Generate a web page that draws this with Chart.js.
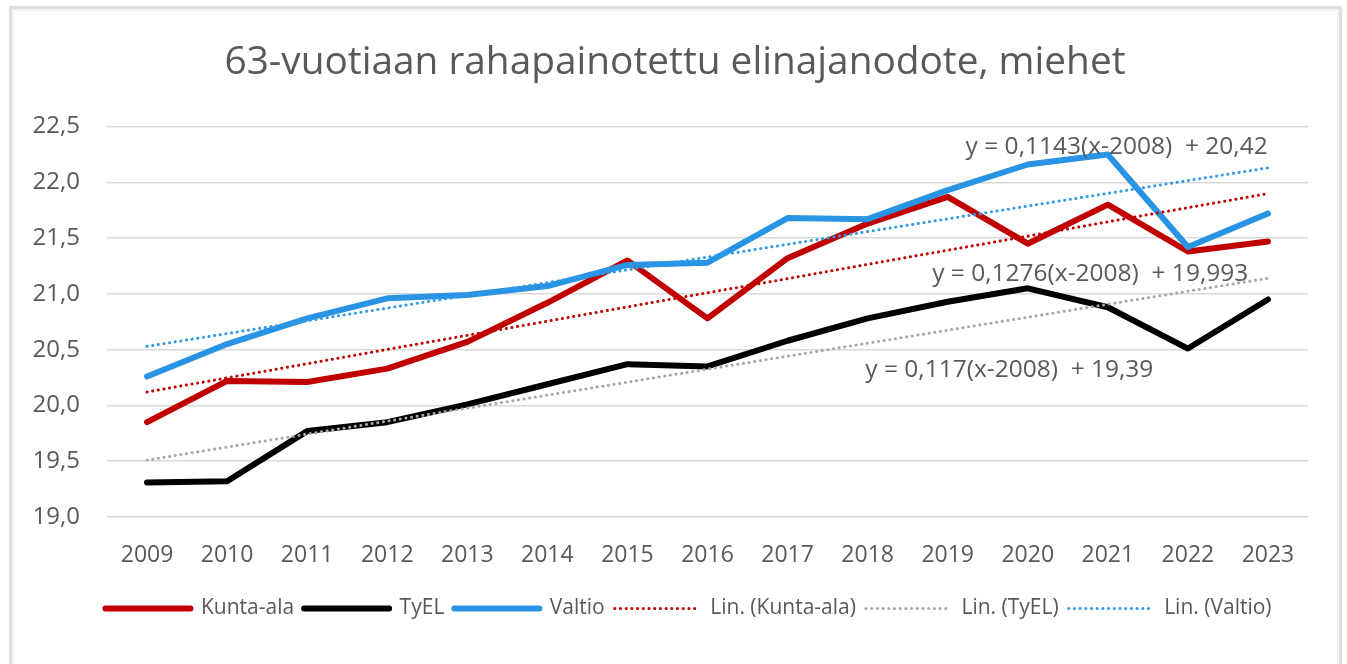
<!DOCTYPE html>
<html>
<head>
<meta charset="utf-8">
<script src="https://cdn.jsdelivr.net/npm/chart.js@4.4.1/dist/chart.umd.min.js"></script>
<style>
  html, body { margin: 0; padding: 0; background: #fff; width: 1347px; height: 664px; overflow: hidden; }
  #frame { position: absolute; left: 9px; top: 6px; width: 1327px; height: 720px; border: 3px solid #dedede; box-shadow: inset 0 0 0 2px #f3f3f3; background: #fff; }
  #c { position: absolute; left: 0; top: 0; }
</style>
</head>
<body>
<div id="frame"></div>
<canvas id="c" width="1347" height="664"></canvas>
<script>
// ---- data ----
const years = ['2009','2010','2011','2012','2013','2014','2015','2016','2017','2018','2019','2020','2021','2022','2023'];
const kuntaAla = [19.85, 20.22, 20.21, 20.33, 20.57, 20.92, 21.30, 20.78, 21.32, 21.63, 21.87, 21.45, 21.80, 21.38, 21.47];
const tyel     = [19.31, 19.32, 19.77, 19.85, 20.01, 20.19, 20.37, 20.35, 20.58, 20.78, 20.93, 21.05, 20.88, 20.51, 20.95];
const valtio   = [20.26, 20.55, 20.78, 20.96, 20.99, 21.07, 21.26, 21.28, 21.68, 21.67, 21.93, 22.16, 22.25, 21.42, 21.72];
// trend lines: values read at the first and last year only
const kuntaTrend  = [20.12, null, null, null, null, null, null, null, null, null, null, null, null, null, 21.90];
const tyelTrend   = [19.51, null, null, null, null, null, null, null, null, null, null, null, null, null, 21.14];
const valtioTrend = [20.53, null, null, null, null, null, null, null, null, null, null, null, null, null, 22.13];
const seriesNames = ['Kunta-ala', 'TyEL', 'Valtio', 'Lin. (Kunta-ala)', 'Lin. (TyEL)', 'Lin. (Valtio)'];
const yTicks = [19.0, 19.5, 20.0, 20.5, 21.0, 21.5, 22.0, 22.5];
const equationTexts = ['y = 0,1143(x-2008)  + 20,42', 'y = 0,1276(x-2008)  + 19,993', 'y = 0,117(x-2008)  + 19,39'];
const titleText = '63-vuotiaan rahapainotettu elinajanodote, miehet';

const TXT = '#595959';
const FONT = '"Open Sans", "DejaVu Sans", sans-serif';

// anchors for equation labels in data units (category index, value)
const eqAnchors = [
  { text: equationTexts[0], xi: 12.11, yv: 22.32 },
  { text: equationTexts[1], xi: 11.78, yv: 21.18 },
  { text: equationTexts[2], xi: 10.77, yv: 20.32 }
];

const eqPlugin = {
  id: 'eqLabels',
  afterDatasetsDraw(chart) {
    const { ctx, scales: { x, y } } = chart;
    ctx.save();
    ctx.font = '24.5px ' + FONT;
    ctx.fillStyle = TXT;
    ctx.textAlign = 'center';
    ctx.textBaseline = 'middle';
    eqAnchors.forEach(a => ctx.fillText(a.text, x.getPixelForValue(a.xi), y.getPixelForValue(a.yv)));
    ctx.restore();
  }
};

// nudge title and legend horizontally to match the reference's centring
const shiftPlugin = {
  id: 'shiftBoxes',
  afterLayout(chart) {
    const l = chart.legend; if (l) { l.left += 19.5; l.right += 19.5; }
    const t = chart.titleBlock; if (t) { t.left += 6; t.right += 6; }
  }
};

function solid(label, data, color, order) {
  return { label, data, borderColor: color, backgroundColor: color, borderWidth: 6,
    borderCapStyle: 'round', borderJoinStyle: 'round', pointRadius: 0, pointHoverRadius: 0,
    tension: 0, order, fill: false };
}
function dotted(label, data, color) {
  return { label, data, borderColor: color, backgroundColor: color, borderWidth: 3,
    borderDash: [0.1, 5.6], borderCapStyle: 'round', pointRadius: 0, pointHoverRadius: 0,
    spanGaps: true, tension: 0, order: 0, fill: false };
}

new Chart(document.getElementById('c').getContext('2d'), {
  type: 'line',
  data: {
    labels: years,
    datasets: [
      solid(seriesNames[0], kuntaAla, '#C00000', 3),
      solid(seriesNames[1], tyel, '#000000', 2),
      solid(seriesNames[2], valtio, '#2A94E4', 1),
      dotted(seriesNames[3], kuntaTrend, '#C00000'),
      dotted(seriesNames[4], tyelTrend, '#A6A6A6'),
      dotted(seriesNames[5], valtioTrend, '#2E9BE6')
    ]
  },
  options: {
    responsive: false,
    animation: false,
    devicePixelRatio: 1,
    layout: { padding: { left: 30, right: 39, top: 0, bottom: 35 } },
    plugins: {
      title: { display: true, text: titleText, color: TXT,
        font: { family: FONT, size: 38.8, weight: 'normal' }, padding: { top: 40, bottom: 40 } },
      legend: {
        position: 'bottom',
        labels: { usePointStyle: true, pointStyle: 'line', pointStyleWidth: 85, padding: 10,
          color: TXT, font: { family: FONT, size: 21 },
          sort: (a, b) => a.datasetIndex - b.datasetIndex,
          generateLabels: chart => {
            const items = Chart.defaults.plugins.legend.labels.generateLabels(chart);
            items.forEach(it => {
              const ds = chart.data.datasets[it.datasetIndex];
              it.lineDash = ds.borderDash || [];
              it.lineCap = ds.borderCapStyle;
              it.lineWidth = ds.borderWidth;
              it.strokeStyle = ds.borderColor;
              it.fillStyle = ds.borderColor;
            });
            return items;
          } }
      },
      tooltip: { enabled: false }
    },
    scales: {
      x: {
        offset: true,
        grid: { display: false, drawTicks: false, offset: true },
        border: { display: false },
        ticks: { color: TXT, font: { family: FONT, size: 23 }, padding: 25, maxRotation: 0, autoSkip: false },
        afterFit: s => { s.height = 71; }
      },
      y: {
        min: 19, max: 22.5,
        afterBuildTicks: s => { s.ticks = yTicks.map(v => ({ value: v })); },
        ticks: { color: TXT, font: { family: FONT, size: 24 }, padding: 27,
          callback: v => Number(v).toFixed(1).replace('.', ',') },
        grid: { color: '#D9D9D9', lineWidth: 1.5, drawTicks: false },
        border: { display: false },
        afterFit: s => { s.width = 77; }
      }
    }
  },
  plugins: [eqPlugin, shiftPlugin]
});
</script>
</body>
</html>
